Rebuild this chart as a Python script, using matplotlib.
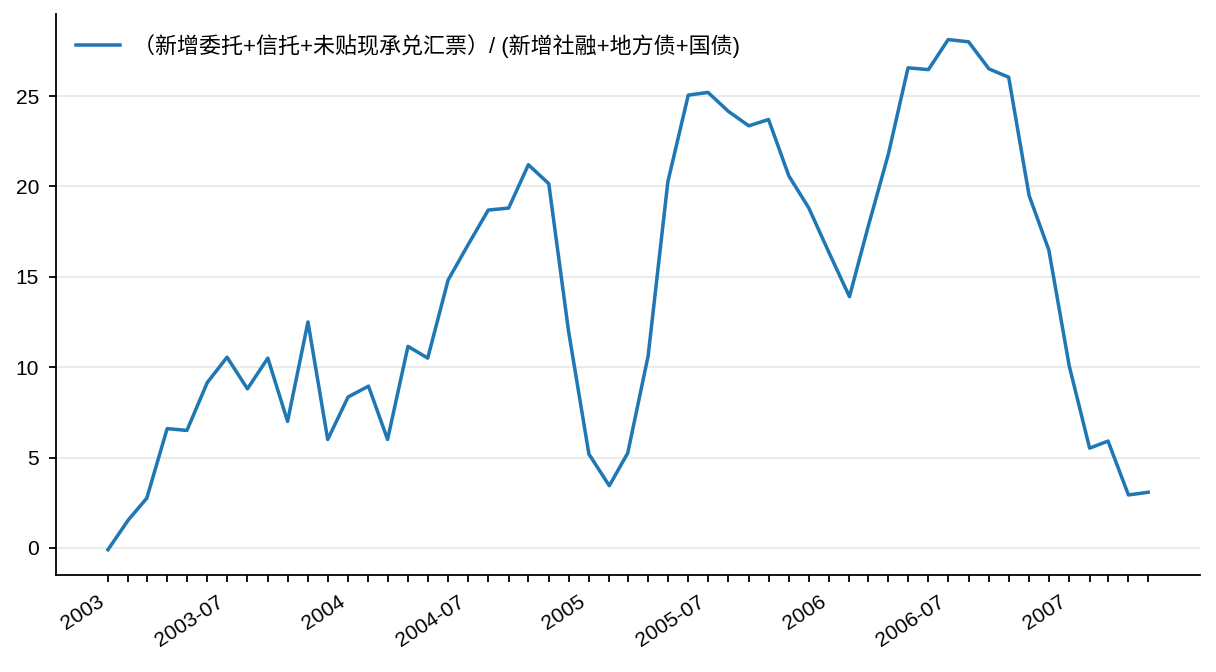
import matplotlib
matplotlib.use("Agg")
import matplotlib.pyplot as plt
import matplotlib.dates as mdates
import matplotlib.ticker as mticker
import pandas as pd

plt.rcParams['font.family'] = ['Liberation Sans', 'Noto Sans CJK SC', 'DejaVu Sans']
plt.rcParams['axes.unicode_minus'] = False

dates = pd.date_range("2003-01-01", periods=53, freq="MS")
ratio = [-0.1, 1.55, 2.75, 6.6, 6.5, 9.15, 10.55, 8.8, 10.5, 7.0,
         12.5, 6.0, 8.35, 8.95, 6.0, 11.15, 10.5, 14.82, 16.75, 18.69,
         18.8, 21.2, 20.15, 12.0, 5.19, 3.44, 5.25, 10.62, 20.26, 25.05,
         25.2, 24.15, 23.35, 23.7, 20.57, 18.82, 16.33, 13.9, 17.72, 21.77,
         26.56, 26.46, 28.12, 28.0, 26.5, 26.04, 19.5, 16.48, 10.07, 5.52,
         5.91, 2.93, 3.08]
label = "（新增委托+信托+未贴现承兑汇票）/ (新增社融+地方债+国债)"

DPI = 144
fig = plt.figure(figsize=(1216 / DPI, 672 / DPI), dpi=DPI)
ax = fig.add_axes([0.046, 0.144, 0.941, 0.835])
ax.plot(dates, ratio, color="#1f77b4", lw=1.75, label=label)

ax.yaxis.set_major_locator(mticker.MultipleLocator(5))
ax.grid(axis="y", color="#e5e5e5", lw=0.75)
ax.set_axisbelow(True)

ax.set_xticks(mdates.date2num(dates))
def fmt(x, pos):
    d = mdates.num2date(x)
    if d.month == 1:
        return f"{d.year}"
    if d.month == 7:
        return f"{d.year}-07"
    return ""
ax.xaxis.set_major_formatter(mticker.FuncFormatter(fmt))
plt.setp(ax.get_xticklabels(), rotation=33, ha="right")
ax.tick_params(axis="both", labelsize=10.5, length=3.5, width=0.9, colors="black", pad=5)

for s in ["top", "right"]:
    ax.spines[s].set_visible(False)
for s in ["left", "bottom"]:
    ax.spines[s].set_linewidth(0.9)

ax.legend(loc="upper left", frameon=False, fontsize=11, handlelength=2.0, handletextpad=0.6)

fig.savefig("out.png", dpi=DPI)
